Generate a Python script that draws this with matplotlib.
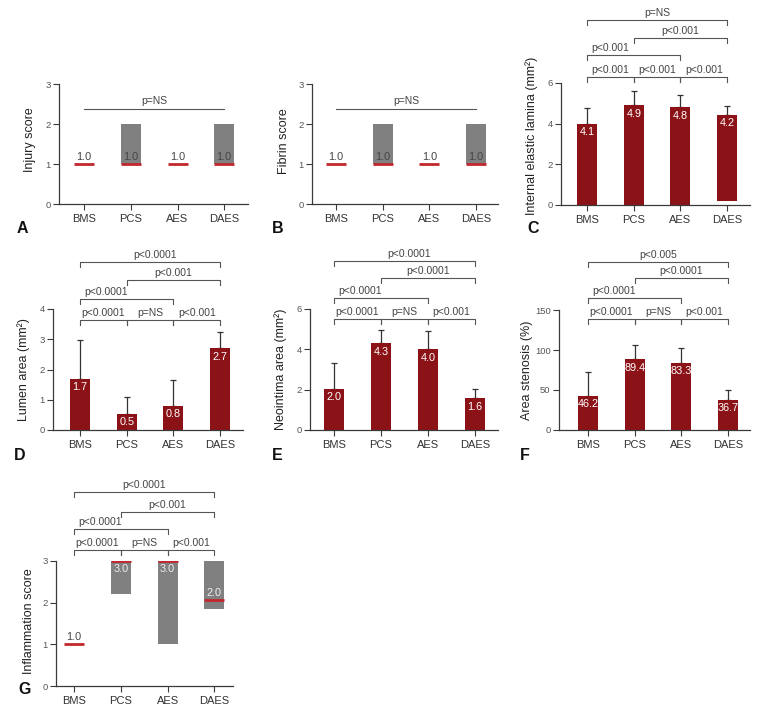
import matplotlib
matplotlib.use('Agg')
import matplotlib.pyplot as plt

# Groups on the x axis of every panel.
groups = ['BMS', 'PCS', 'AES', 'DAES']

# A, B: score panels (median with interquartile range).
injury_median = [1.0, 1.0, 1.0, 1.0]
injury_q1 = [1.0, 1.0, 1.0, 1.0]
injury_q3 = [1.0, 2.0, 1.0, 2.0]
injury_labels = ['1.0', '1.0', '1.0', '1.0']

fibrin_median = [1.0, 1.0, 1.0, 1.0]
fibrin_q1 = [1.0, 1.0, 1.0, 1.0]
fibrin_q3 = [1.0, 2.0, 1.0, 2.0]
fibrin_labels = ['1.0', '1.0', '1.0', '1.0']

# C: internal elastic lamina (mm2), mean + SD.
iel_mean = [4.0, 4.9, 4.8, 4.45]
iel_base = [0.0, 0.0, 0.0, 0.22]
iel_sd = [0.77, 0.7, 0.63, 0.43]
iel_labels = ['4.1', '4.9', '4.8', '4.2']

# D: lumen area (mm2).
lumen_mean = [1.7, 0.54, 0.8, 2.7]
lumen_sd = [1.27, 0.56, 0.85, 0.53]
lumen_labels = ['1.7', '0.5', '0.8', '2.7']

# E: neointima area (mm2).
neo_mean = [2.05, 4.3, 4.0, 1.57]
neo_sd = [1.25, 0.65, 0.92, 0.48]
neo_labels = ['2.0', '4.3', '4.0', '1.6']

# F: area stenosis (%).
sten_mean = [42.5, 88.5, 84.0, 37.5]
sten_sd = [30.0, 17.5, 18.5, 12.5]
sten_labels = ['46.2', '89.4', '83.3', '36.7']

# G: inflammation score.
infl_median = [1.0, 3.0, 3.0, 2.07]
infl_q1 = [1.0, 2.2, 1.02, 1.85]
infl_q3 = [1.0, 3.0, 3.0, 3.0]
infl_labels = ['1.0', '3.0', '3.0', '2.0']

# Significance brackets: (group i, group j, p text).
pairs = [(0, 1), (1, 2), (2, 3), (0, 2), (1, 3), (0, 3)]
iel_p = ['p<0.001', 'p<0.001', 'p<0.001', 'p<0.001', 'p<0.001', 'p=NS']
lumen_p = ['p<0.0001', 'p=NS', 'p<0.001', 'p<0.0001', 'p<0.001', 'p<0.0001']
neo_p = ['p<0.0001', 'p=NS', 'p<0.001', 'p<0.0001', 'p<0.0001', 'p<0.0001']
sten_p = ['p<0.0001', 'p=NS', 'p<0.001', 'p<0.0001', 'p<0.0001', 'p<0.005']
infl_p = ['p<0.0001', 'p=NS', 'p<0.001', 'p<0.0001', 'p<0.001', 'p<0.0001']

BAR = '#8b1217'
MED = '#c1272d'
BOX = '#808080'
AXC = '#3a3a3a'
TXT = '#444444'
W, H = 780, 715

plt.rcParams['font.family'] = ['Liberation Sans', 'DejaVu Sans']

fig = plt.figure(figsize=(W / 100, H / 100), dpi=100)


def make_ax(l, t, r, b, ylim, yticks, ylabel, xlim, label_y=0.5, label_x=-0.12):
    ax = fig.add_axes([l / W, 1 - b / H, (r - l) / W, (b - t) / H])
    ax.set_xlim(*xlim)
    ax.set_ylim(*ylim)
    ax.set_yticks(yticks)
    ax.set_xticks(range(4))
    ax.set_xticklabels(groups, family=['Liberation Sans Narrow', 'Liberation Sans'],
                       fontsize=8, color='#333333')
    ax.tick_params(axis='y', labelsize=6.8, labelcolor='#555555', length=4, width=0.8, color=AXC, pad=2)
    ax.tick_params(axis='x', length=4, width=0.8, color=AXC, pad=3)
    for s in ['top', 'right']:
        ax.spines[s].set_visible(False)
    for s in ['left', 'bottom']:
        ax.spines[s].set_color(AXC)
        ax.spines[s].set_linewidth(0.9)
    ax.set_ylabel(ylabel, fontsize=9, color='#222222')
    ax.yaxis.set_label_coords(label_x, label_y)
    ax.patch.set_alpha(0)
    return ax


def brackets(ax, levels, texts, text_x):
    h_px = ax.get_position().height * H
    ylo, yhi = ax.get_ylim()
    tick = 5 * (yhi - ylo) / h_px
    gap = 2 * (yhi - ylo) / h_px
    for (i, j), y, t, tx in zip(pairs, levels, texts, text_x):
        ax.plot([i, i, j, j], [y - tick, y, y, y - tick], color='#555555', lw=0.8, clip_on=False)
        ax.text(tx, y + gap, t, ha='center', va='bottom', fontsize=7.5, color=TXT, clip_on=False)


def bar_panel(ax, mean, base, sd, labels):
    heights = [m - b for m, b in zip(mean, base)]
    ax.bar(range(4), heights, bottom=base, width=0.43, color=BAR, zorder=2)
    ax.errorbar(range(4), mean, yerr=[[0] * 4, sd], fmt='none', ecolor='#333333',
                elinewidth=0.9, capsize=2, capthick=0.9, zorder=1)
    for k, (m, lab) in enumerate(zip(mean, labels)):
        ax.annotate(lab, (k, m), xytext=(0, -2.5), textcoords='offset points', ha='center', va='top',
                    fontsize=7.8, color='white', zorder=3)


def score_panel(ax, med, q1, q3, labels, light_inside):
    for k in range(4):
        if q3[k] > q1[k]:
            ax.bar(k, q3[k] - q1[k], bottom=q1[k], width=0.43, color=BOX, zorder=1)
        ax.plot([k - 0.215, k + 0.215], [med[k], med[k]], color=MED, lw=2, solid_capstyle='butt', zorder=2)
        inside = q3[k] > q1[k]
        col = '#eeeeee' if (inside and light_inside) else TXT
        if inside and light_inside and med[k] >= q3[k]:
            ax.annotate(labels[k], (k, med[k]), xytext=(0, -2.5), textcoords='offset points',
                        ha='center', va='top', fontsize=7.8, color=col, zorder=3)
        else:
            ax.annotate(labels[k], (k, med[k]), xytext=(0, 1.5), textcoords='offset points',
                        ha='center', va='bottom', fontsize=7.8, color=col, zorder=3)


# A: injury score
axA = make_ax(59, 84, 248, 204, (0, 3), [0, 1, 2, 3], 'Injury score', (-0.54, 3.51), 0.54)
score_panel(axA, injury_median, injury_q1, injury_q3, injury_labels, False)
axA.plot([0, 3], [2.38, 2.38], color='#555555', lw=0.8)
axA.text(1.5, 2.45, 'p=NS', ha='center', va='bottom', fontsize=7.5, color=TXT)

# B: fibrin score
axB = make_ax(312, 84, 498, 204, (0, 3), [0, 1, 2, 3], 'Fibrin score', (-0.51, 3.47), 0.52)
score_panel(axB, fibrin_median, fibrin_q1, fibrin_q3, fibrin_labels, False)
axB.plot([0, 3], [2.38, 2.38], color='#555555', lw=0.8)
axB.text(1.5, 2.45, 'p=NS', ha='center', va='bottom', fontsize=7.5, color=TXT)

# C: internal elastic lamina
axC = make_ax(561, 83, 750, 205, (0, 6), [0, 2, 4, 6], 'Internal elastic lamina (mm²)', (-0.56, 3.49), 0.57)
bar_panel(axC, iel_mean, iel_base, iel_sd, iel_labels)
brackets(axC, [6.31, 6.31, 6.31, 7.38, 8.23, 9.1], iel_p, [0.5, 1.5, 2.5, 0.5, 2.0, 1.5])

# D: lumen area
axD = make_ax(53, 309, 243, 430, (0, 4), [0, 1, 2, 3, 4], 'Lumen area (mm²)', (-0.58, 3.49))
bar_panel(axD, lumen_mean, [0] * 4, lumen_sd, lumen_labels)
brackets(axD, [3.64, 3.64, 3.64, 4.33, 4.96, 5.55], lumen_p, [0.5, 1.5, 2.5, 0.55, 2.0, 1.6])

# E: neointima area
axE = make_ax(310, 309, 498, 430, (0, 6), [0, 2, 4, 6], 'Neointima area (mm²)', (-0.51, 3.49))
bar_panel(axE, neo_mean, [0] * 4, neo_sd, neo_labels)
brackets(axE, [5.5, 5.5, 5.5, 6.54, 7.54, 8.38], neo_p, [0.5, 1.5, 2.5, 0.55, 2.0, 1.6])

# F: area stenosis
axF = make_ax(559, 310, 750, 430, (0, 150), [0, 50, 100, 150], 'Area stenosis (%)', (-0.62, 3.47),
              label_x=-0.135)
bar_panel(axF, sten_mean, [0] * 4, sten_sd, sten_labels)
brackets(axF, [138.75, 138.75, 138.75, 165, 190, 210], sten_p, [0.5, 1.5, 2.5, 0.55, 2.0, 1.5])

# G: inflammation score
axG = make_ax(56, 561, 233, 686, (0, 3), [0, 1, 2, 3], 'Inflammation score', (-0.39, 3.4), 0.52)
score_panel(axG, infl_median, infl_q1, infl_q3, infl_labels, True)
brackets(axG, [3.26, 3.26, 3.26, 3.77, 4.18, 4.66], infl_p, [0.5, 1.5, 2.5, 0.55, 2.0, 1.5])

# panel letters
for letter, x, y in [('A', 17, 233), ('B', 272, 233), ('C', 527, 233),
                     ('D', 14, 460), ('E', 272, 460), ('F', 520, 460), ('G', 18, 694)]:
    fig.text(x / W, 1 - y / H, letter, fontsize=11.5, fontweight='bold', color='#111111',
             ha='left', va='baseline')

fig.savefig('out.png', dpi=100)
